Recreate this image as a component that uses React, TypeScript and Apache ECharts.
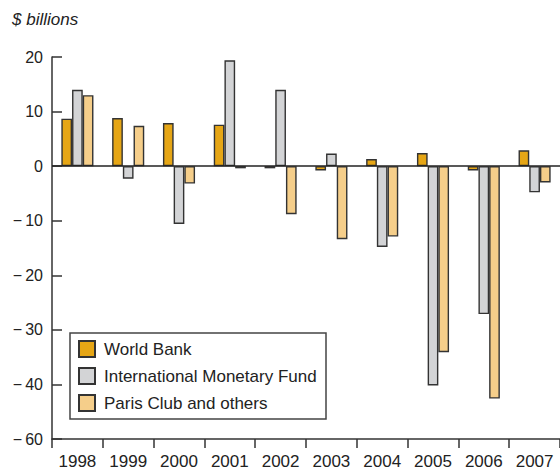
import React, { useEffect, useRef } from "react";
import * as echarts from "echarts";

const years = ["1998", "1999", "2000", "2001", "2002", "2003", "2004", "2005", "2006", "2007"];
const worldBank = [8.7, 8.8, 7.9, 7.6, -0.4, -0.8, 1.3, 2.4, -0.8, 2.9];
const imf = [14.0, -2.3, -10.6, 19.4, 14.0, 2.3, -14.8, -40.2, -27.1, -4.8];
const parisClub = [13.0, 7.4, -3.2, -0.4, -8.8, -13.4, -12.9, -34.1, -42.6, -3.0];
const seriesNames = ["World Bank", "International Monetary Fund", "Paris Club and others"];
const seriesColors = ["#E6A615", "#D3D4D6", "#F5CE8A"];
const yTicks = [20, 10, 0, -10, -20, -30, -40, -50];
const yTickLabels = ["20", "10", "0", "\u2212\u200910", "\u2212\u200920", "\u2212\u200930", "\u2212\u200940", "\u2212\u200960"];

const FONT = "'Liberation Sans', Arial, Helvetica, sans-serif";

export default function App() {
  const ref = useRef<HTMLDivElement>(null);
  useEffect(() => {
    document.body.style.margin = "0";
    if (!ref.current) return;
    const chart = echarts.init(ref.current, undefined, { renderer: "svg" });
    const data = [worldBank, imf, parisClub];
    chart.setOption({
      animation: false,
      backgroundColor: "#ffffff",
      textStyle: { fontFamily: FONT },
      grid: { left: 52, top: 57, width: 510, height: 382.5 },
      legend: {
        orient: "vertical",
        left: 73,
        top: 335,
        icon: "rect",
        itemWidth: 16,
        itemHeight: 16,
        itemGap: 9,
        textStyle: { fontSize: 17, color: "#222", fontFamily: FONT, padding: [0, 0, 0, 4] },
        data: seriesNames,
      },
      graphic: [
        {
          type: "text",
          left: 12,
          top: 11,
          style: { text: "$ billions", font: `italic 17px ${FONT}`, fill: "#222" },
        },
        {
          type: "rect",
          shape: { x: 70, y: 333, width: 256, height: 86 },
          style: { fill: "none", stroke: "#444", lineWidth: 1.5 },
          z: 10,
        },
      ],
      xAxis: {
        type: "category",
        data: years,
        axisLine: { onZero: false, lineStyle: { color: "#333", width: 1.5 } },
        axisTick: { show: true, length: 9, lineStyle: { color: "#333", width: 1.5 } },
        axisLabel: { color: "#222", fontSize: 17, margin: 14, fontFamily: FONT },
      },
      yAxis: {
        type: "value",
        min: -50,
        max: 20,
        interval: 10,
        splitLine: { show: false },
        axisLine: { show: true, lineStyle: { color: "#333", width: 1.5 } },
        axisTick: { show: true, inside: true, length: 10, lineStyle: { color: "#333", width: 1.5 } },
        axisLabel: {
          color: "#222",
          fontSize: 16,
          margin: 9,
          fontFamily: FONT,
          formatter: (v: number) => {
            const i = yTicks.indexOf(v);
            return i >= 0 ? yTickLabels[i] : "";
          },
        },
      },
      series: seriesNames.map((name, i) => ({
        name,
        type: "bar",
        data: data[i],
        barWidth: 10.7,
        barGap: "0%",
        itemStyle: { color: seriesColors[i], borderColor: "#333", borderWidth: 1.4 },
        ...(i === 0
          ? {
              markLine: {
                silent: true,
                symbol: "none",
                label: { show: false },
                lineStyle: { color: "#222", width: 1.5, type: "solid" },
                data: [{ yAxis: 0 }],
              },
            }
          : {}),
      })),
    });
    return () => chart.dispose();
  }, []);
  return <div ref={ref} style={{ width: 560, height: 470 }} />;
}
